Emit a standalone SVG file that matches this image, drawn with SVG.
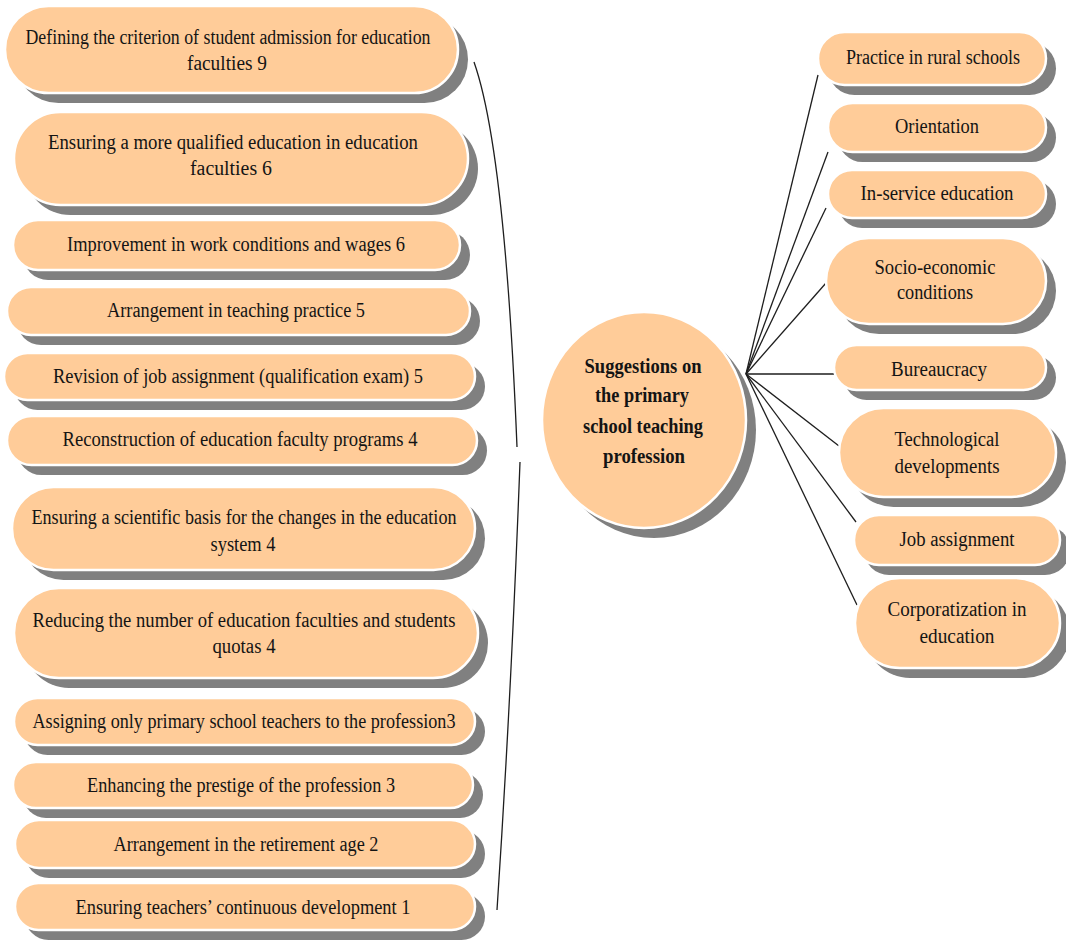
<svg xmlns="http://www.w3.org/2000/svg" width="1066" height="946" viewBox="0 0 1066 946">
  <style>
    .sh { fill: #808080; }
    .box { fill: #FFCC99; stroke: #FFFFFF; stroke-width: 2.5; }
    .t { font-family: "Liberation Serif", "Times New Roman", serif; font-size: 20px; fill: #141414; text-anchor: middle; }
    .hub { font-family: "Liberation Serif", "Times New Roman", serif; font-size: 20px; font-weight: bold; fill: #141414; text-anchor: middle; }
    .ln { fill: none; stroke: #1e1e1e; stroke-width: 1.3; }
  </style>
  <rect width="1066" height="946" fill="#FFFFFF"/>

  <!-- connectors: bracket on the left, fan of lines on the right -->
  <g id="connectors">
    <path class="ln" d="M474,62 Q505,150 517,447"/>
    <path class="ln" d="M520,462 Q511,700 497,910"/>
    <line class="ln" x1="746" y1="374" x2="818" y2="75"/>
    <line class="ln" x1="746" y1="374" x2="828" y2="152"/>
    <line class="ln" x1="746" y1="374" x2="826" y2="208"/>
    <line class="ln" x1="746" y1="374" x2="826" y2="283"/>
    <line class="ln" x1="746" y1="374" x2="834" y2="374"/>
    <line class="ln" x1="746" y1="374" x2="839" y2="446"/>
    <line class="ln" x1="746" y1="374" x2="856" y2="522"/>
    <line class="ln" x1="746" y1="374" x2="857" y2="605"/>
  </g>

  <!-- left column -->
  <g id="l1">
    <rect class="sh" x="15" y="16" width="453" height="87" rx="43.5"/>
    <rect class="box" x="5" y="6" width="453" height="87" rx="43.5"/>
    <text class="t" x="228" y="44" textLength="405" lengthAdjust="spacingAndGlyphs">Defining the criterion of student admission for education</text>
    <text class="t" x="227" y="70" textLength="80" lengthAdjust="spacingAndGlyphs">faculties 9</text>
  </g>
  <g id="l2">
    <rect class="sh" x="24" y="122" width="454" height="93" rx="46.5"/>
    <rect class="box" x="14" y="112" width="454" height="93" rx="46.5"/>
    <text class="t" x="233" y="149" textLength="370" lengthAdjust="spacingAndGlyphs">Ensuring a more qualified education in education</text>
    <text class="t" x="231" y="175" textLength="82" lengthAdjust="spacingAndGlyphs">faculties 6</text>
  </g>
  <g id="l3">
    <rect class="sh" x="23" y="230" width="447" height="50" rx="25"/>
    <rect class="box" x="13" y="220" width="447" height="50" rx="25"/>
    <text class="t" x="236" y="251" textLength="338" lengthAdjust="spacingAndGlyphs">Improvement in work conditions and wages 6</text>
  </g>
  <g id="l4">
    <rect class="sh" x="17" y="297" width="463" height="48" rx="24"/>
    <rect class="box" x="7" y="287" width="463" height="48" rx="24"/>
    <text class="t" x="236" y="317" textLength="258" lengthAdjust="spacingAndGlyphs">Arrangement in teaching practice 5</text>
  </g>
  <g id="l5">
    <rect class="sh" x="14" y="363" width="471" height="47" rx="23.5"/>
    <rect class="box" x="4" y="353" width="471" height="47" rx="23.5"/>
    <text class="t" x="238" y="383" textLength="370" lengthAdjust="spacingAndGlyphs">Revision of job assignment (qualification exam) 5</text>
  </g>
  <g id="l6">
    <rect class="sh" x="17" y="426" width="470" height="49" rx="24.5"/>
    <rect class="box" x="7" y="416" width="470" height="49" rx="24.5"/>
    <text class="t" x="240" y="446" textLength="355" lengthAdjust="spacingAndGlyphs">Reconstruction of education faculty programs 4</text>
  </g>
  <g id="l7">
    <rect class="sh" x="22" y="497" width="463" height="83" rx="41.5"/>
    <rect class="box" x="12" y="487" width="463" height="83" rx="41.5"/>
    <text class="t" x="244" y="524" textLength="425" lengthAdjust="spacingAndGlyphs">Ensuring a scientific basis for the changes in the education</text>
    <text class="t" x="243" y="551" textLength="65" lengthAdjust="spacingAndGlyphs">system 4</text>
  </g>
  <g id="l8">
    <rect class="sh" x="24" y="598" width="464" height="90" rx="45"/>
    <rect class="box" x="14" y="588" width="464" height="90" rx="45"/>
    <text class="t" x="244" y="627" textLength="423" lengthAdjust="spacingAndGlyphs">Reducing the number of education faculties and students</text>
    <text class="t" x="244" y="653" textLength="63" lengthAdjust="spacingAndGlyphs">quotas 4</text>
  </g>
  <g id="l9">
    <rect class="sh" x="24" y="708" width="461" height="47" rx="23.5"/>
    <rect class="box" x="14" y="698" width="461" height="47" rx="23.5"/>
    <text class="t" x="244" y="728" textLength="423" lengthAdjust="spacingAndGlyphs">Assigning only primary school teachers to the profession3</text>
  </g>
  <g id="l10">
    <rect class="sh" x="23" y="772" width="460" height="46" rx="23"/>
    <rect class="box" x="13" y="762" width="460" height="46" rx="23"/>
    <text class="t" x="241" y="792" textLength="308" lengthAdjust="spacingAndGlyphs">Enhancing the prestige of the profession 3</text>
  </g>
  <g id="l11">
    <rect class="sh" x="25" y="830" width="460" height="48" rx="24"/>
    <rect class="box" x="15" y="820" width="460" height="48" rx="24"/>
    <text class="t" x="246" y="851" textLength="265" lengthAdjust="spacingAndGlyphs">Arrangement in the retirement age 2</text>
  </g>
  <g id="l12">
    <rect class="sh" x="25" y="893" width="460" height="47" rx="23.5"/>
    <rect class="box" x="15" y="883" width="460" height="47" rx="23.5"/>
    <text class="t" x="243" y="914" textLength="335" lengthAdjust="spacingAndGlyphs">Ensuring teachers’ continuous development 1</text>
  </g>

  <!-- central node -->
  <g id="hub">
    <ellipse class="sh" cx="654" cy="430" rx="102" ry="108"/>
    <ellipse class="box" cx="644" cy="420" rx="102" ry="108"/>
    <text class="hub" x="643" y="373" textLength="117" lengthAdjust="spacingAndGlyphs">Suggestions on</text>
    <text class="hub" x="642" y="402" textLength="94" lengthAdjust="spacingAndGlyphs">the primary</text>
    <text class="hub" x="643" y="433" textLength="120" lengthAdjust="spacingAndGlyphs">school teaching</text>
    <text class="hub" x="644" y="463" textLength="82" lengthAdjust="spacingAndGlyphs">profession</text>
  </g>

  <!-- right column -->
  <g id="r1">
    <rect class="sh" x="828" y="42" width="228" height="53" rx="26.5"/>
    <rect class="box" x="818" y="32" width="228" height="53" rx="26.5"/>
    <text class="t" x="933" y="64" textLength="174" lengthAdjust="spacingAndGlyphs">Practice in rural schools</text>
  </g>
  <g id="r2">
    <rect class="sh" x="838" y="113" width="218" height="49" rx="24.5"/>
    <rect class="box" x="828" y="103" width="218" height="49" rx="24.5"/>
    <text class="t" x="937" y="133" textLength="84" lengthAdjust="spacingAndGlyphs">Orientation</text>
  </g>
  <g id="r3">
    <rect class="sh" x="838" y="180" width="218" height="48" rx="24"/>
    <rect class="box" x="828" y="170" width="218" height="48" rx="24"/>
    <text class="t" x="937" y="200" textLength="153" lengthAdjust="spacingAndGlyphs">In-service education</text>
  </g>
  <g id="r4">
    <rect class="sh" x="836" y="248" width="220" height="86" rx="43"/>
    <rect class="box" x="826" y="238" width="220" height="86" rx="43"/>
    <text class="t" x="935" y="274" textLength="121" lengthAdjust="spacingAndGlyphs">Socio-economic</text>
    <text class="t" x="935" y="299" textLength="76" lengthAdjust="spacingAndGlyphs">conditions</text>
  </g>
  <g id="r5">
    <rect class="sh" x="844" y="355" width="212" height="45" rx="22.5"/>
    <rect class="box" x="834" y="345" width="212" height="45" rx="22.5"/>
    <text class="t" x="939" y="376" textLength="96" lengthAdjust="spacingAndGlyphs">Bureaucracy</text>
  </g>
  <g id="r6">
    <rect class="sh" x="849" y="418" width="217" height="89" rx="44.5"/>
    <rect class="box" x="839" y="408" width="217" height="89" rx="44.5"/>
    <text class="t" x="947" y="446" textLength="105" lengthAdjust="spacingAndGlyphs">Technological</text>
    <text class="t" x="947" y="473" textLength="105" lengthAdjust="spacingAndGlyphs">developments</text>
  </g>
  <g id="r7">
    <rect class="sh" x="864" y="525" width="206" height="50" rx="25"/>
    <rect class="box" x="854" y="515" width="206" height="50" rx="25"/>
    <text class="t" x="957" y="546" textLength="115" lengthAdjust="spacingAndGlyphs">Job assignment</text>
  </g>
  <g id="r8">
    <rect class="sh" x="865" y="588" width="205" height="90" rx="45"/>
    <rect class="box" x="855" y="578" width="205" height="90" rx="45"/>
    <text class="t" x="957" y="616" textLength="139" lengthAdjust="spacingAndGlyphs">Corporatization in</text>
    <text class="t" x="957" y="643" textLength="75" lengthAdjust="spacingAndGlyphs">education</text>
  </g>
</svg>
